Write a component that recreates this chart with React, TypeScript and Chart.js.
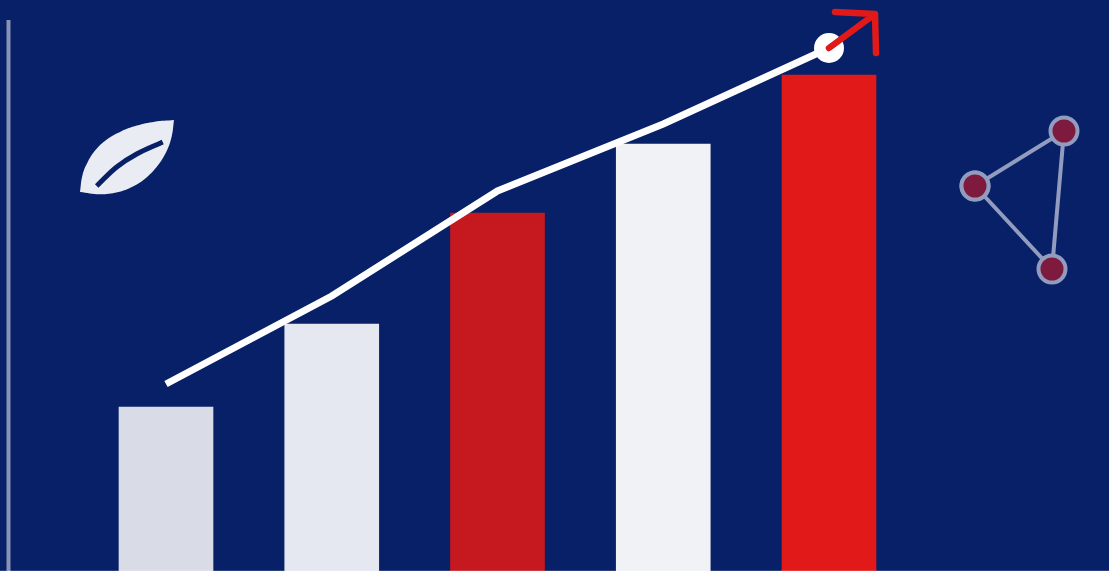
import React, { useEffect, useRef } from "react";
import { Chart, registerables } from "chart.js";

Chart.register(...registerables);

const WIDTH = 1109;
const HEIGHT = 571;
const NAVY = "#072067";

// Main chart (x: category position, y: value)
const positions = [1, 2, 3, 4, 5];
const barValues = [164, 247, 358, 427, 496];
const barColors = ["#d9dbe7", "#e5e8f0", "#c6191f", "#f1f2f6", "#e11a19"];
const lineValues = [187, 275, 380, 447, 523];

// Decoration shapes, measured across the picture's width
const leafX = [174, 154.6, 136.9, 121, 107.5, 96.4, 88.1, 82.4, 80, 80, 99.5, 117.4, 132.9, 146.5, 157.6, 166.2, 171.7, 174];
const leafY = [451, 449.3, 445.4, 439.6, 432, 421.9, 409.7, 395.6, 379, 379, 376.8, 378.8, 384.6, 393.6, 405.2, 418.9, 434.4, 451];
const veinX = [96.7, 116.7, 136.7, 162.7];
const veinY = [385, 404, 417, 429];
const arrowX = [829, 875, 835, 875, 876];
const arrowY = [523, 557, 559, 557, 518];
const netX = [975, 1064, 1052, 975];
const netY = [385, 440, 302, 385];
const ruleX = [8.5, 8.5];
const ruleY = [0, 551];
const baseX = [0, 1109];
const baseY = [0.5, 0.5];

// One category step on the x axis spans this share of the picture's width
const STEP = 165.75;
const FIRST = 166;
const toX = (v: number) => 1 + (v - FIRST) / STEP;
const zip = (xs: number[], ys: number[]) => xs.map((x, i) => ({ x, y: ys[i] }));
const zipD = (xs: number[], ys: number[]) => xs.map((x, i) => ({ x: toX(x), y: ys[i] }));

export default function App() {
  const ref = useRef<HTMLCanvasElement | null>(null);

  useEffect(() => {
    document.body.style.margin = "0";
    document.body.style.background = NAVY;
    const deco = { type: "line" as const, pointRadius: 0, clip: false, fill: false };
    const chart = new Chart(ref.current as HTMLCanvasElement, {
      type: "bar",
      data: {
        datasets: [
          {
            type: "bar",
            data: zip(positions, barValues),
            backgroundColor: barColors,
            barThickness: 94,
            borderWidth: 0,
            order: 6,
          },
          {
            type: "line",
            data: zip(positions, lineValues),
            borderColor: "#ffffff",
            borderWidth: 7,
            tension: 0,
            pointRadius: [0, 0, 0, 0, 15],
            pointBackgroundColor: "#ffffff",
            pointBorderWidth: 0,
            clip: false,
            order: 3,
          },
          {
            ...deco,
            data: zipD(arrowX, arrowY),
            borderColor: "#e11a19",
            borderWidth: 6.5,
            borderCapStyle: "round",
            borderJoinStyle: "round",
            order: 1,
          },
          {
            ...deco,
            data: zipD(leafX, leafY),
            borderWidth: 0,
            borderColor: "#eaecf3",
            backgroundColor: "#eaecf3",
            fill: "shape",
            tension: 0.4,
            order: 5,
          },
          {
            ...deco,
            data: zipD(veinX, veinY),
            borderColor: NAVY,
            borderWidth: 5,
            tension: 0.4,
            order: 4,
          },
          {
            ...deco,
            data: zipD(netX, netY),
            borderColor: "#929cbf",
            borderWidth: 4,
            pointRadius: 13.5,
            pointBorderWidth: 4,
            pointBorderColor: "#929cbf",
            pointBackgroundColor: "#7e1a3d",
            order: 2,
          },
          {
            ...deco,
            data: zipD(ruleX, ruleY),
            borderColor: "#8792b5",
            borderWidth: 4,
            order: 7,
          },
          {
            ...deco,
            data: zipD(baseX, baseY),
            borderColor: "rgba(255,255,255,0.15)",
            borderWidth: 1,
            order: 0,
          },
        ],
      } as any,
      options: {
        responsive: false,
        animation: false,
        devicePixelRatio: 1,
        layout: { padding: 0, autoPadding: false },
        events: [],
        plugins: { legend: { display: false }, tooltip: { enabled: false }, title: { display: false } },
        scales: {
          x: {
            type: "linear",
            display: false,
            offset: false,
            min: toX(0),
            max: toX(WIDTH),
          },
          y: { type: "linear", display: false, min: 0, max: HEIGHT },
        },
      } as any,
    });
    return () => chart.destroy();
  }, []);

  return (
    <div style={{ width: WIDTH, height: HEIGHT, background: NAVY }}>
      <canvas ref={ref} width={WIDTH} height={HEIGHT} style={{ display: "block" }} />
    </div>
  );
}
